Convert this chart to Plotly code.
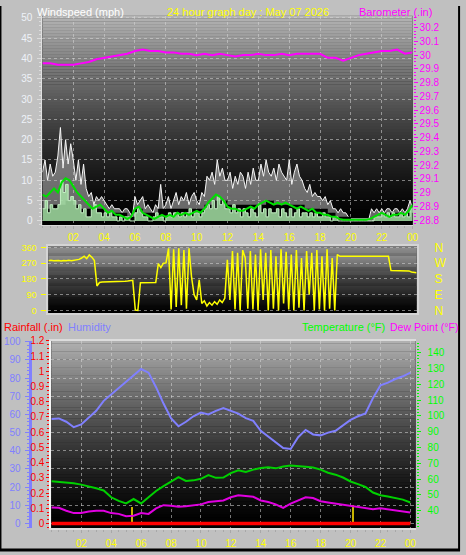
import plotly.graph_objects as go

W, H = 466, 555

# ---------------- data ----------------
label_hours = [2, 4, 6, 8, 10, 12, 14, 16, 18, 20, 22, 24]
label_text = ['02', '04', '06', '08', '10', '12', '14', '16', '18', '20', '22', '00']

t10 = [i / 6 for i in range(145)]   # 10-minute samples
t15 = [i / 4 for i in range(97)]    # 15-minute samples
t30 = [i / 2 for i in range(49)]    # 30-minute samples

wind_gust = [
    12, 15, 10, 14, 11, 12,
    16, 23, 13, 20, 14, 19,
    15, 10, 15, 9, 14, 8,
    6, 7, 4, 6, 5, 6,
    5, 4, 3, 4, 3, 3,
    3, 2, 3, 3, 2, 1,
    6, 4, 5, 6, 3, 4,
    3, 2, 4, 3, 9, 3,
    4, 6, 3, 5, 7, 4,
    6, 5, 7, 4, 6, 7,
    5, 4, 7, 6, 11, 10,
    12, 9, 15, 11, 13, 10,
    10, 12, 8, 11, 9, 12,
    11, 8, 12, 9, 13, 10,
    10, 14, 11, 15, 12, 11,
    13, 10, 14, 12, 11, 10,
    15, 9, 12, 14, 11, 10,
    8, 7, 9, 6, 7, 6,
    6, 5, 6, 4, 5, 3,
    3, 2, 3, 2, 2, 1,
    0.5, 0.5, 0.5, 0.5, 0.5, 0.5,
    0.5, 0.5, 3, 2, 3, 2,
    3, 2, 3, 3, 2, 3,
    3, 2, 3, 2, 3, 5,
    3,
]

wind_speed = [
    3, 5, 2, 4, 3, 3,
    4, 10, 7, 9, 5, 6,
    5, 3, 4, 2, 3, 1,
    1, 3, 4, 2, 2, 1,
    2, 1, 2, 1, 1, 0,
    1, 0, 1, 1, 0, 0,
    2, 3, 2, 1, 1, 0,
    0, 1, 2, 1, 1, 0,
    1, 2, 1, 2, 2, 1,
    2, 1, 2, 3, 1, 2,
    2, 1, 2, 3, 4, 3,
    5, 3, 6, 4, 5, 3,
    3, 2, 4, 2, 3, 1,
    3, 2, 1, 3, 2, 1,
    4, 2, 3, 1, 3, 2,
    2, 3, 1, 3, 2, 1,
    3, 1, 2, 3, 1, 2,
    2, 1, 2, 1, 2, 1,
    1, 2, 1, 1, 0, 1,
    1, 0, 0, 0, 0, 0,
    0, 0, 0, 0, 0, 0,
    0, 0, 0, 1, 1, 1,
    2, 1, 2, 1, 2, 1,
    1, 2, 1, 2, 1, 3,
    2,
]

wind_low = [3, 4, 4, 5, 4, 3, 3, 3, 2, 2,
            2, 1, 3, 2, 2, 3, 3, 3, 3, 3,
            3, 4, 5, 5, 4, 4, 4, 4, 4, 5,
            4, 4, 4, 4, 3, 3, 3, 2, 1, 1,
            0, 0, 0, 1, 2, 2, 2, 2, 2]

wind_avg = [
    6.5, 6.0, 7.0, 8.0,
    7.0, 9.5, 10.5, 10.0,
    8.5, 7.0, 6.0, 5.0,
    4.0, 3.0, 3.5, 4.0,
    3.0, 2.0, 2.5, 1.5,
    1.5, 1.0, 0.5, 1.0,
    3.0, 3.5, 2.0, 1.5,
    1.0, 0.5, 1.0, 1.5,
    1.0, 1.5, 1.0, 2.0,
    1.5, 2.0, 1.5, 2.0,
    2.5, 2.0, 3.0, 4.5,
    5.5, 6.5, 6.0, 5.0,
    3.5, 3.0, 3.0, 2.5,
    2.5, 3.0, 3.5, 3.0,
    4.0, 4.5, 5.0, 4.5,
    4.0, 4.5, 4.0, 4.5,
    4.0, 3.5, 3.0, 3.5,
    3.0, 2.5, 3.0, 2.0,
    2.0, 1.5, 1.5, 1.0,
    1.0, 0.5, 0.3, 0.3,
    0.3, 0.3, 0.3, 0.3,
    0.3, 0.5, 1.0, 1.5,
    2.0, 1.5, 1.0, 1.5,
    1.5, 2.0, 1.5, 2.5,
    4.0,
]

barometer = [29.94, 29.94, 29.93, 29.93, 29.93, 29.94, 29.95, 29.97, 29.98, 29.99,
             30.00, 30.01, 30.03, 30.04, 30.03, 30.03, 30.02, 30.02, 30.01, 30.01,
             30.00, 30.01, 30.00, 30.01, 30.00, 29.99, 30.00, 30.00, 30.01, 30.00,
             30.00, 30.01, 30.00, 30.01, 30.01, 30.01, 30.01, 29.98, 29.98, 29.96,
             29.98, 30.00, 30.01, 30.02, 30.03, 30.03, 30.04, 30.01, 30.02]

wind_dir = [
    285, 287, 284, 286, 285, 283,
    286, 284, 287, 285, 288, 290,
    292, 300, 310, 296, 318, 305,
    285, 140, 160, 163, 163, 164,
    165, 165, 165, 165, 166, 166,
    167, 168, 170, 172, 2, 0,
    158, 158, 158, 158, 158, 158,
    160, 268, 245, 270, 272, 355,
    5, 350, 20, 355, 30, 345,
    10, 355, 190, 90, 60, 175,
    40, 55, 25, 45, 30, 50,
    35, 60, 45, 70, 290, 60,
    340, 5, 330, 0, 345, 300,
    10, 340, 5, 320, 0, 350,
    60, 330, 0, 345, 10, 310,
    0, 350, 40, 335, 5, 320,
    0, 345, 15, 300, 0, 340,
    90, 330, 0, 345, 5, 310,
    0, 350, 10, 300, 0, 320,
    310, 310, 310, 310, 310, 310,
    310, 310, 310, 310, 310, 310,
    310, 310, 310, 310, 310, 310,
    310, 310, 228, 228, 228, 228,
    228, 228, 228, 226, 220, 218,
    215,
]

temperature = [58.6, 58.2, 57.8, 57.3, 56.5, 55.5, 54.2, 52.8, 48.5, 46.2,
               44.6, 47.4, 44.6, 48.5, 52.5, 55.5, 58.5, 61.2, 58.8, 59.2,
               60.2, 62.5, 60.8, 61.0, 63.8, 65.5, 64.5, 66.0, 67.0, 67.5,
               66.8, 68.0, 68.6, 68.0, 67.8, 67.3, 66.0, 64.0, 62.8, 61.0,
               58.5, 56.8, 55.0, 51.5, 49.8, 49.0, 47.8, 47.0, 45.2]

dew_point = [42.0, 41.8, 40.0, 38.5, 38.5, 39.5, 40.0, 40.0, 38.5, 38.0,
             36.5, 36.8, 38.5, 38.0, 41.5, 43.5, 43.2, 42.5, 42.8, 43.5,
             44.0, 45.5, 45.8, 46.5, 48.5, 49.8, 49.3, 48.8, 46.5, 45.5,
             44.0, 41.8, 44.5, 46.5, 48.5, 48.0, 46.0, 45.2, 44.5, 44.0,
             43.0, 42.5, 41.8, 41.0, 41.5, 40.8, 40.2, 39.5, 38.8]

humidity = [57.5, 57.8, 56.0, 53.0, 54.5, 58.0, 62.0, 67.5, 71.0, 75.0,
            78.0, 82.0, 85.0, 83.0, 75.0, 66.0, 58.0, 53.5, 56.0, 59.0,
            61.0, 60.0, 62.0, 63.5, 62.0, 60.5, 58.0, 56.5, 51.0, 48.0,
            45.0, 41.5, 41.0, 47.5, 51.5, 49.0, 48.5, 50.0, 51.0, 54.0,
            57.0, 59.0, 60.5, 69.0, 76.0, 77.5, 79.5, 81.0, 83.0]

rainfall = [0, 0, 0, 0, 0, 0, 0, 0, 0, 0,
            0, 0, 0, 0, 0, 0, 0, 0, 0, 0,
            0, 0, 0, 0, 0, 0, 0, 0, 0, 0,
            0, 0, 0, 0, 0, 0, 0, 0, 0, 0,
            0, 0, 0, 0, 0, 0, 0, 0, 0]

rain_event_hours = [5.4, 20.15]
rain_event_vals = [0.11, 0.12]

baro_ticks = [28.8, 28.9, 29.0, 29.1, 29.2, 29.3, 29.4, 29.5, 29.6, 29.7,
              29.8, 29.9, 30.0, 30.1, 30.2]
baro_text = ['28.8', '28.9', '29', '29.1', '29.2', '29.3', '29.4', '29.5', '29.6', '29.7',
             '29.8', '29.9', '30', '30.1', '30.2']
rain_ticks = [0, 0.1, 0.2, 0.3, 0.4, 0.5, 0.6, 0.7, 0.8, 0.9, 1.0, 1.1, 1.2]
rain_text = ['0', '0.1', '0.2', '0.3', '0.4', '0.5', '0.6', '0.7', '0.8', '0.9', '1', '1.1', '1.2']
dir_ticks = [0, 90, 180, 270, 360]
dir_letters = ['N', 'E', 'S', 'W', 'N']

# ---------------- styling helpers ----------------
FONT = "Liberation Sans Narrow, Liberation Sans, Arial, sans-serif"
TFONT = "Liberation Sans, Arial, sans-serif"
GRID = 'rgba(215,215,215,0.55)'
half_hours = [i * 0.5 for i in range(49)]


def fx(px):
    return px / W


def fy(py):
    return 1 - py / H


def gradient(xref, yref, top=180, n=70, power=1.4):
    out = []
    for i in range(n):
        f0, f1 = i / n, (i + 1) / n
        v = int(top * (1 - (f0 + f1) / 2) ** power)
        out.append(dict(type='rect', xref=xref, yref=yref, x0=0, x1=1,
                        y0=1 - f1, y1=1 - f0 + 0.002, layer='below',
                        fillcolor=f'rgb({v},{v},{v})', line=dict(width=0)))
    return out


fig = go.Figure()

# ---- top panel: wind & barometer ----
fig.add_trace(go.Scatter(x=t10, y=wind_gust, xaxis='x', yaxis='y', mode='lines',
                         line=dict(color='#f6f6f6', width=1),
                         fill='tozeroy', fillcolor='rgba(205,205,205,0.5)'))
fig.add_trace(go.Scatter(x=t30, y=wind_low, xaxis='x', yaxis='y', mode='lines',
                         line=dict(width=0, shape='hv', color='#000000'),
                         fill='tozeroy', fillcolor='#000000'))
fig.add_trace(go.Scatter(x=t10, y=wind_speed, xaxis='x', yaxis='y', mode='lines',
                         line=dict(color='#c4f0c4', width=1, shape='hv'),
                         fill='tozeroy', fillcolor='rgba(165,225,165,0.85)'))
fig.add_trace(go.Scatter(x=t15, y=wind_avg, xaxis='x', yaxis='y', mode='lines',
                         line=dict(color='#00e000', width=2)))
fig.add_trace(go.Scatter(x=t30, y=barometer, xaxis='x', yaxis='y2', mode='lines',
                         line=dict(color='#ff00ff', width=2)))

# ---- middle panel: wind direction ----
fig.add_trace(go.Scatter(x=t10, y=wind_dir, xaxis='x2', yaxis='y3', mode='lines',
                         line=dict(color='#ffff00', width=1.5)))
fig.add_trace(go.Scatter(x=t10, y=wind_dir, xaxis='x2', yaxis='y4', mode='lines',
                         line=dict(color='#ffff00', width=0), opacity=0,
                         hoverinfo='skip'))

# ---- bottom panel: humidity, temperature, dew point, rain ----
fig.add_trace(go.Scatter(x=t30, y=humidity, xaxis='x3', yaxis='y6', mode='lines',
                         line=dict(color='#8080ff', width=2)))
fig.add_trace(go.Scatter(x=t30, y=temperature, xaxis='x3', yaxis='y7', mode='lines',
                         line=dict(color='#00d000', width=2)))
fig.add_trace(go.Scatter(x=t30, y=dew_point, xaxis='x3', yaxis='y7', mode='lines',
                         line=dict(color='#e000e0', width=2)))
fig.add_trace(go.Bar(x=rain_event_hours, y=rain_event_vals, xaxis='x3', yaxis='y5',
                     width=0.13, marker=dict(color='#c8b400', line=dict(width=0))))
fig.add_trace(go.Scatter(x=t30, y=rainfall, xaxis='x3', yaxis='y5', mode='lines',
                         line=dict(color='#ff0000', width=3.5)))

shapes = []
shapes += gradient('x domain', 'y domain', top=182)
shapes += gradient('x2 domain', 'y3 domain', top=170, power=1.2)
shapes += gradient('x3 domain', 'y5 domain', top=178)
# image border
shapes += [
    dict(type='line', xref='paper', yref='paper', x0=0, x1=1, y0=0.002, y1=0.002,
         line=dict(color='#000000', width=3)),
    dict(type='line', xref='paper', yref='paper', x0=0.001, x1=0.001, y0=0, y1=1,
         line=dict(color='#000000', width=2)),
    dict(type='line', xref='paper', yref='paper', x0=0.998, x1=0.998, y0=0, y1=1,
         line=dict(color='#000000', width=2)),
]


def title(text, px, py, color, anchor='center', size=11):
    return dict(text=text, x=fx(px), y=fy(py), xref='paper', yref='paper',
                xanchor=anchor, yanchor='middle', showarrow=False,
                font=dict(color=color, size=size, family=TFONT))


annotations = [
    title('Windspeed (mph)', 35, 6, '#ffffff', 'left'),
    title('24 hour graph day : May 07 2026', 251, 6, '#ffff00'),
    title('Barometer (.in)', 440, 6, '#ff00ff', 'right'),
    title('Rainfall (.in)', 2, 327, '#ff0000', 'left'),
    title('Humidity', 67, 327, '#8080ff', 'left'),
    title('Temperature (°F)', 392, 327, '#00ff00', 'right'),
    title('Dew Point (°F)', 393, 327, '#ff00ff', 'left', size=10.5),
]

xcommon = dict(range=[0, 24], tickmode='array', tickvals=label_hours, ticktext=label_text,
               tickfont=dict(color='#ffff00', size=10, family=FONT),
               ticks='outside', ticklen=3, tickcolor='#a8a8a8',
               showgrid=True, gridcolor=GRID, griddash='dot', gridwidth=1,
               zeroline=False, fixedrange=True,
               minor=dict(tickmode='array', tickvals=half_hours, ticks='outside',
                          ticklen=2, tickcolor='#a8a8a8', showgrid=False))

fig.update_layout(
    width=W, height=H, autosize=False,
    margin=dict(l=0, r=0, t=0, b=0, pad=0),
    paper_bgcolor='#c0c0c0', plot_bgcolor='#000000',
    showlegend=False, hovermode=False, bargap=0,
    shapes=shapes, annotations=annotations,
    xaxis=dict(xcommon, domain=[fx(43), fx(418)], anchor='y',
               showline=True, linecolor='#d8d8d8', linewidth=1,
               ticklabelstandoff=0),
    yaxis=dict(domain=[fy(223), fy(10)], range=[-1, 50.5], anchor='x',
               tickmode='array', tickvals=[0, 5, 10, 15, 20, 25, 30, 35, 40, 45, 50],
               tickfont=dict(color='#eef2f8', size=10, family=FONT),
               ticks='outside', ticklen=4, tickcolor='#dcdcdc',
               minor=dict(dtick=1, ticks='outside', ticklen=2, tickcolor='#dcdcdc', showgrid=False),
               showgrid=True, gridcolor=GRID, griddash='dot', zeroline=False,
               showline=True, linecolor='#e0e0e0', linewidth=1, ticklabelstandoff=3,
               fixedrange=True),
    yaxis2=dict(overlaying='y', side='right', anchor='x', range=[28.764, 30.286],
                tickmode='array', tickvals=baro_ticks, ticktext=baro_text,
                tickfont=dict(color='#ff00ff', size=10, family=FONT),
                ticks='outside', ticklen=4, tickcolor='#ff00ff',
                minor=dict(dtick=0.025, tick0=28.8, ticks='outside', ticklen=2,
                           tickcolor='#ff00ff', showgrid=False),
                showgrid=False, zeroline=False, showline=False, fixedrange=True),
    xaxis2=dict(domain=[fx(49), fx(422)], range=[0, 24], anchor='y3',
                showticklabels=False, ticks='', showgrid=False, zeroline=False,
                showline=True, mirror=True, linecolor='#d4d4d4', linewidth=2,
                fixedrange=True),
    yaxis3=dict(domain=[fy(313), fy(244)], range=[-17, 371], anchor='x2',
                tickmode='array', tickvals=dir_ticks,
                tickfont=dict(color='#ffff00', size=9, family=FONT),
                ticks='outside', ticklen=5, tickcolor='#ffff00',
                showgrid=True, gridcolor=GRID, griddash='dot', zeroline=False,
                showline=True, mirror=True, linecolor='#d4d4d4', linewidth=2,
                ticklabelstandoff=3, fixedrange=True),
    yaxis4=dict(overlaying='y3', side='right', anchor='x2', range=[-17, 371],
                tickmode='array', tickvals=dir_ticks, ticktext=dir_letters,
                tickfont=dict(color='#ffff00', size=12, family=TFONT),
                ticks='', showgrid=False, zeroline=False, showline=False,
                ticklabelstandoff=17, fixedrange=True),
    xaxis3=dict(xcommon, domain=[fx(52), fx(421)], range=[0, 24.35], anchor='y5',
                showline=True, mirror=True, linecolor='#dcdcdc', linewidth=2,
                ticklabelstandoff=2),
    yaxis5=dict(domain=[fy(532), fy(341)], range=[-0.032, 1.2], anchor='x3',
                tickmode='array', tickvals=rain_ticks, ticktext=rain_text,
                tickfont=dict(color='#ff0000', size=10, family=FONT),
                ticks='outside', ticklen=3, tickcolor='#ff0000',
                minor=dict(dtick=0.025, tick0=0, ticks='outside', ticklen=2,
                           tickcolor='#ff0000', showgrid=False),
                showgrid=False, zeroline=False,
                showline=True, linecolor='#f4f4f4', linewidth=2, fixedrange=True),
    yaxis6=dict(overlaying='y5', anchor='free', position=fx(30), side='left',
                range=[-2.7, 100.5], tickmode='array',
                tickvals=[0, 10, 20, 30, 40, 50, 60, 70, 80, 90, 100],
                tickfont=dict(color='#8080ff', size=10, family=FONT),
                ticks='outside', ticklen=4, tickcolor='#8080ff',
                minor=dict(dtick=2, ticks='outside', ticklen=2, tickcolor='#8080ff',
                           showgrid=False),
                showgrid=True, gridcolor=GRID, griddash='dot', zeroline=False,
                showline=True, linecolor='#8080ff', linewidth=3,
                ticklabelstandoff=2, fixedrange=True),
    yaxis7=dict(overlaying='y5', side='right', anchor='x3', range=[28.8, 147.45],
                tickmode='array',
                tickvals=[40, 50, 60, 70, 80, 90, 100, 110, 120, 130, 140],
                tickfont=dict(color='#00ff00', size=10, family=FONT),
                ticks='outside', ticklen=4, tickcolor='#00ff00',
                minor=dict(dtick=2, tick0=0, ticks='outside', ticklen=2,
                           tickcolor='#00ff00', showgrid=False),
                showgrid=False, zeroline=False, showline=False,
                ticklabelstandoff=5, fixedrange=True),
)

fig.write_html("out.html", config={'displayModeBar': False, 'staticPlot': True},
               post_script="document.body.style.margin='0';document.body.style.padding='0';"
                           "document.body.style.overflow='hidden';")
